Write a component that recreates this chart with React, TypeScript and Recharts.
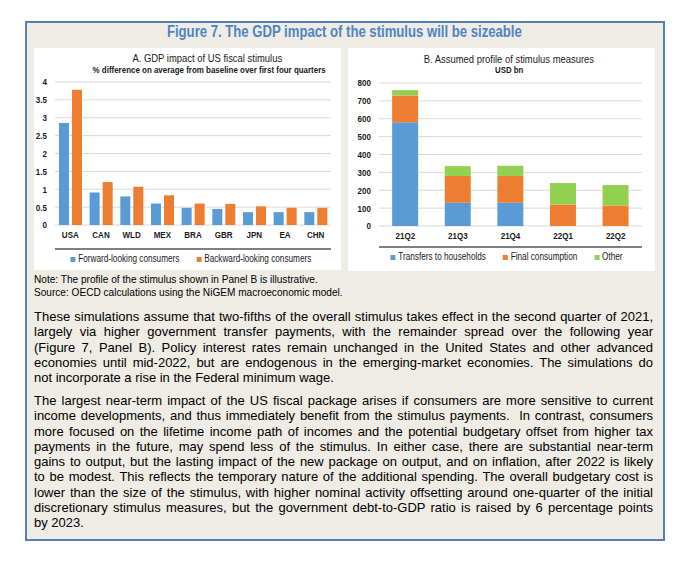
import React from 'react';
import { BarChart, Bar, XAxis, YAxis, CartesianGrid, Legend } from 'recharts';

// ---- Panel A data ----
const countries = ['USA', 'CAN', 'WLD', 'MEX', 'BRA', 'GBR', 'JPN', 'EA', 'CHN'];
const forwardLooking = [2.85, 0.91, 0.8, 0.6, 0.48, 0.45, 0.36, 0.36, 0.36];
const backwardLooking = [3.78, 1.2, 1.07, 0.83, 0.6, 0.59, 0.52, 0.48, 0.48];
const gdpTicks = [0, 0.5, 1, 1.5, 2, 2.5, 3, 3.5, 4];
const countryBounds = [0, 1, 2, 3, 4, 5, 6, 7, 8, 9];
const seriesA = ['fwd', 'bwd'];

// ---- Panel B data ----
const quarters = ['21Q2', '21Q3', '21Q4', '22Q1', '22Q2'];
const transfers = [580, 130, 130, 0, 0];
const finalConsumption = [150, 150, 150, 120, 115];
const other = [30, 55, 57, 120, 115];
const usdTicks = [0, 100, 200, 300, 400, 500, 600, 700, 800];
const quarterBounds = [0, 1, 2, 3, 4, 5];
const seriesB = ['tr', 'fc', 'ot'];

const dataA = countries.map((c, i) => ({ name: c, fwd: forwardLooking[i], bwd: backwardLooking[i] }));
const dataB = quarters.map((q, i) => ({ name: q, tr: transfers[i], fc: finalConsumption[i], ot: other[i] }));

const BLUE = '#5b9bd5';
const ORANGE = '#ed7d31';
const GREEN = '#92d050';
const SANS = "'Liberation Sans', Arial, sans-serif";
const SQUEEZE = 0.82;

const NarrowTick = (props: any) => {
  const { x, y, payload, textAnchor, verticalAnchor } = props;
  const dy = verticalAnchor === 'start' ? '0.71em' : verticalAnchor === 'end' ? '0' : '0.355em';
  return (
    <text
      x={0}
      y={0}
      dy={dy}
      transform={`translate(${x},${y}) scale(${SQUEEZE},1)`}
      textAnchor={textAnchor}
      fontFamily={SANS}
      fontSize={9.8}
      fontWeight={700}
      fill="#1a1a1a"
    >
      {payload.value}
    </text>
  );
};

const makeLegend = (shift: number, order: string[]) => (props: any) => {
  const payload = [...(props.payload || [])].sort(
    (a: any, b: any) => order.indexOf(a.dataKey) - order.indexOf(b.dataKey)
  );
  return (
    <div
      style={{
        display: 'flex',
        justifyContent: 'center',
        alignItems: 'center',
        height: 12,
        paddingLeft: shift,
        boxSizing: 'border-box',
        width: '100%',
      }}
    >
      <div
        style={{
          display: 'flex',
          alignItems: 'center',
          gap: 17 / SQUEEZE,
          transform: `scaleX(${SQUEEZE})`,
          transformOrigin: 'center',
          fontFamily: SANS,
          fontSize: 10,
          color: '#1a1a1a',
          whiteSpace: 'nowrap',
          lineHeight: '12px',
        }}
      >
        {payload.map((p: any) => (
          <span key={p.value} style={{ display: 'flex', alignItems: 'center' }}>
            <span style={{ display: 'inline-block', width: 6, height: 5, background: p.color, marginRight: 3.5 }} />
            {p.value}
          </span>
        ))}
      </div>
    </div>
  );
};

const Narrow = ({ children, origin = 'center' }: { children: React.ReactNode; origin?: string }) => (
  <span style={{ display: 'inline-block', transform: `scaleX(${SQUEEZE})`, transformOrigin: origin }}>{children}</span>
);

const para1 = [
  'These simulations assume that two-fifths of the overall stimulus takes effect in the second quarter of 2021,',
  'largely via higher government transfer payments, with the remainder spread over the following year',
  '(Figure 7, Panel B). Policy interest rates remain unchanged in the United States and other advanced',
  'economies until mid-2022, but are endogenous in the emerging-market economies. The simulations do',
  'not incorporate a rise in the Federal minimum wage.',
];
const para2 = [
  'The largest near-term impact of the US fiscal package arises if consumers are more sensitive to current',
  'income developments, and thus immediately benefit from the stimulus payments.  In contrast, consumers',
  'more focused on the lifetime income path of incomes and the potential budgetary offset from higher tax',
  'payments in the future, may spend less of the stimulus. In either case, there are substantial near-term',
  'gains to output, but the lasting impact of the new package on output, and on inflation, after 2022 is likely',
  'to be modest. This reflects the temporary nature of the additional spending. The overall budgetary cost is',
  'lower than the size of the stimulus, with higher nominal activity offsetting around one-quarter of the initial',
  'discretionary stimulus measures, but the government debt-to-GDP ratio is raised by 6 percentage points',
  'by 2023.',
];

const Paragraph = ({ lines, top }: { lines: string[]; top: number }) => (
  <div style={{ position: 'absolute', left: 34, top, width: 619, fontFamily: SANS, fontSize: 13, lineHeight: '15.3px', color: '#000' }}>
    {lines.map((l, i) => (
      <div
        key={i}
        style={{
          whiteSpace: 'pre',
          textAlign: i === lines.length - 1 ? 'left' : 'justify',
          textAlignLast: i === lines.length - 1 ? 'left' : 'justify',
        }}
      >
        {l}
      </div>
    ))}
  </div>
);

// centre x and vertical centre y of a single line of squeezed text
const centeredText = (cx: number, cy: number, size: number, bold: boolean, text: string) => (
  <div
    style={{
      position: 'absolute',
      left: cx - 300,
      width: 600,
      top: cy - size / 2,
      height: size,
      textAlign: 'center',
      fontFamily: SANS,
      fontSize: size,
      fontWeight: bold ? 700 : 400,
      color: '#1a1a1a',
      lineHeight: `${size}px`,
      whiteSpace: 'nowrap',
    }}
  >
    <Narrow>{text}</Narrow>
  </div>
);

export default function App() {
  return (
    <div style={{ position: 'absolute', left: 0, top: 0, width: 691, height: 563, background: '#fff', overflow: 'hidden' }}>
      <div
        style={{
          position: 'absolute',
          left: 25,
          top: 21,
          width: 636,
          height: 516,
          border: '2px solid #5580b5',
          background: '#eeece4',
        }}
      />
      <div
        style={{
          position: 'absolute',
          left: 44,
          top: 23,
          width: 600,
          textAlign: 'center',
          fontFamily: SANS,
          fontWeight: 700,
          fontSize: 16,
          color: '#4f85c2',
          lineHeight: '18px',
          whiteSpace: 'nowrap',
        }}
      >
        <Narrow>Figure 7. The GDP impact of the stimulus will be sizeable</Narrow>
      </div>

      {/* Panel A */}
      <div style={{ position: 'absolute', left: 34, top: 48, width: 307, height: 222, background: '#fff', overflow: 'hidden' }}>
        {centeredText(173, 10.5, 11.5, false, 'A. GDP impact of US fiscal stimulus')}
        {centeredText(175, 22, 9.7, true, '% difference on average from baseline over first four quarters')}
        <BarChart width={307} height={222} data={dataA} margin={{ top: 34, right: 10, left: 0, bottom: 5 }} barCategoryGap="13%" barGap={3}>
          <CartesianGrid xAxisId="cat" vertical={false} stroke="#d9d9d9" />
          <XAxis
            xAxisId="tk"
            type="number"
            domain={[0, 9]}
            ticks={countryBounds}
            allowDataOverflow
            tick={false}
            tickSize={4}
            height={4}
            axisLine={{ stroke: '#000' }}
            tickLine={{ stroke: '#000' }}
          />
          <XAxis
            xAxisId="cat"
            dataKey="name"
            axisLine={false}
            tickLine={false}
            tickSize={0}
            tickMargin={6}
            height={24}
            interval={0}
            tick={<NarrowTick />}
          />
          <YAxis width={21} domain={[0, 4]} ticks={gdpTicks} interval={0} axisLine={false} tickLine={false} tick={<NarrowTick />} />
          <Legend verticalAlign="bottom" content={makeLegend(16, seriesA)} />
          <Bar xAxisId="cat" dataKey="fwd" name="Forward-looking consumers" fill={BLUE} isAnimationActive={false} />
          <Bar xAxisId="cat" dataKey="bwd" name="Backward-looking consumers" fill={ORANGE} isAnimationActive={false} />
        </BarChart>
      </div>

      {/* Panel B */}
      <div style={{ position: 'absolute', left: 348, top: 48, width: 307, height: 223, background: '#fff', overflow: 'hidden' }}>
        {centeredText(161, 12, 11.5, false, 'B. Assumed profile of stimulus measures')}
        {centeredText(161, 22, 9.5, true, 'USD bn')}
        <BarChart width={307} height={223} data={dataB} margin={{ top: 35, right: 13, left: 0, bottom: 8 }} barCategoryGap="25%">
          <CartesianGrid xAxisId="cat" vertical={false} stroke="#d9d9d9" />
          <XAxis
            xAxisId="tk"
            type="number"
            domain={[0, 5]}
            ticks={quarterBounds}
            allowDataOverflow
            tick={false}
            tickSize={4}
            height={4}
            axisLine={{ stroke: '#000' }}
            tickLine={{ stroke: '#000' }}
          />
          <XAxis
            xAxisId="cat"
            dataKey="name"
            axisLine={false}
            tickLine={false}
            tickSize={0}
            tickMargin={6}
            height={21}
            interval={0}
            tick={<NarrowTick />}
          />
          <YAxis width={31} domain={[0, 800]} ticks={usdTicks} interval={0} axisLine={false} tickLine={false} tick={<NarrowTick />} />
          <Legend verticalAlign="bottom" content={makeLegend(24, seriesB)} />
          <Bar xAxisId="cat" dataKey="tr" stackId="s" name="Transfers to households" fill={BLUE} isAnimationActive={false} />
          <Bar xAxisId="cat" dataKey="fc" stackId="s" name="Final consumption" fill={ORANGE} isAnimationActive={false} />
          <Bar xAxisId="cat" dataKey="ot" stackId="s" name="Other" fill={GREEN} isAnimationActive={false} />
        </BarChart>
      </div>

      {/* Notes */}
      <div style={{ position: 'absolute', left: 34, top: 273, fontFamily: SANS, fontSize: 10.1, lineHeight: '13px', color: '#000', whiteSpace: 'nowrap' }}>
        <div>Note: The profile of the stimulus shown in Panel B is illustrative.</div>
        <div>Source: OECD calculations using the NiGEM macroeconomic model.</div>
      </div>

      <Paragraph lines={para1} top={309} />
      <Paragraph lines={para2} top={393} />
    </div>
  );
}
